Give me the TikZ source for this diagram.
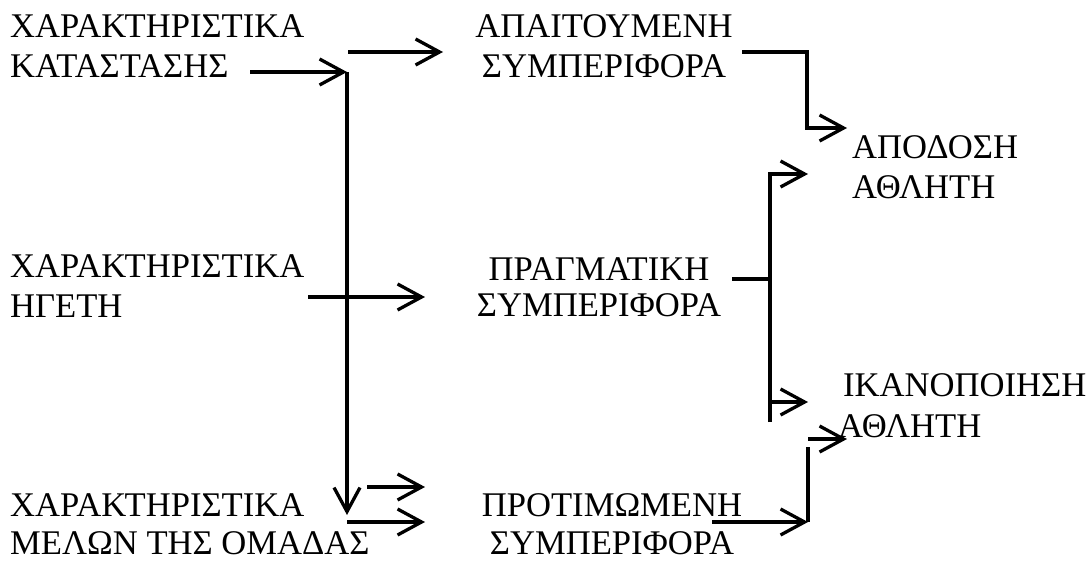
\documentclass[tikz,border=0pt]{standalone}
\usepackage{fontspec}
\setmainfont{Liberation Serif}
\usetikzlibrary{arrows.meta}
\newcommand{\twoL}[3][0pt]{\begin{tabular}[t]{@{}l@{}}#2\\[#1]#3\end{tabular}}
\newcommand{\twoC}[3][0pt]{\begin{tabular}[t]{@{}c@{}}#2\\[#1]#3\end{tabular}}
\begin{document}
\begin{tikzpicture}[x=1pt,y=-1pt,
  txt/.style={inner sep=0pt, font=\fontsize{34.6}{40}\selectfont},
  wire/.style={line width=3.3pt},
  arr/.style={wire, -{Straight Barb[length=24pt,width=26pt]}}]
\useasboundingbox[fill=white] (0,0) rectangle (1091,560);

% factors on the left
\node[txt, anchor=base west] (sit)  at (10,37)  {\twoL{ΧΑΡΑΚΤΗΡΙΣΤΙΚΑ}{ΚΑΤΑΣΤΑΣΗΣ}};
\node[txt, anchor=base west] (lead) at (10,277) {\twoL{ΧΑΡΑΚΤΗΡΙΣΤΙΚΑ}{ΗΓΕΤΗ}};
\node[txt, anchor=base west] (memb) at (10,516) {\twoL[-2pt]{ΧΑΡΑΚΤΗΡΙΣΤΙΚΑ}{ΜΕΛΩΝ ΤΗΣ ΟΜΑΔΑΣ}};

% behaviours in the middle
\node[txt, anchor=base] (req)  at (604,37)  {\twoC{ΑΠΑΙΤΟΥΜΕΝΗ}{ΣΥΜΠΕΡΙΦΟΡΑ}};
\node[txt, anchor=base] (act)  at (599,280) {\twoC[-4pt]{ΠΡΑΓΜΑΤΙΚΗ}{ΣΥΜΠΕΡΙΦΟΡΑ}};
\node[txt, anchor=base] (pref) at (612,516) {\twoC[-2pt]{ΠΡΟΤΙΜΩΜΕΝΗ}{ΣΥΜΠΕΡΙΦΟΡΑ}};

% outcomes on the right
\node[txt, anchor=base west] (perf) at (852,158) {\twoL{ΑΠΟΔΟΣΗ}{ΑΘΛΗΤΗ}};
\node[txt, anchor=base west] (sat)  at (838,396) {\twoL[1pt]{\hspace{5pt}ΙΚΑΝΟΠΟΙΗΣΗ}{ΑΘΛΗΤΗ}};

% junction points
\coordinate (sitOut)  at (250,72);
\coordinate (bus)     at (347,72);
\coordinate (busEnd)  at (347,515);
\coordinate (fork)    at (348,52);
\coordinate (reqIn)   at (443,52);
\coordinate (leadOut) at (308,297);
\coordinate (actIn)   at (425,297);
\coordinate (mFork1)  at (367,487);
\coordinate (mIn1)    at (425,487);
\coordinate (mFork2)  at (347,522);
\coordinate (mIn2)    at (425,522);
\coordinate (reqOut)  at (742,52);
\coordinate (reqBend) at (807,128);
\coordinate (perfIn1) at (847,128);
\coordinate (actOut)  at (732,279);
\coordinate (railTop) at (770,174);
\coordinate (railBot) at (770,422);
\coordinate (perfIn2) at (808,174);
\coordinate (satTap)  at (770,402);
\coordinate (satIn1)  at (808,402);
\coordinate (prefOut) at (712,522);
\coordinate (prefBend) at (808,522);
\coordinate (prefTop) at (808,447);
\coordinate (satTap2) at (808,439);
\coordinate (satIn2)  at (847,439);

% left bus
\draw[arr] (sitOut) -- (bus);
\draw[arr] (bus) -- (busEnd);
\draw[arr] (fork) -- (reqIn);
\draw[arr] (leadOut) -- (actIn);
\draw[arr] (mFork1) -- (mIn1);
\draw[arr] (mFork2) -- (mIn2);

% required behaviour to performance
\draw[arr] (reqOut) -| (reqBend) -- (perfIn1);

% actual behaviour to both outcomes
\draw[wire] (actOut) -- (actOut -| railTop);
\draw[arr] (railBot) -- (railTop) -- (perfIn2);
\draw[arr] (satTap) -- (satIn1);

% preferred behaviour to satisfaction
\draw[arr] (prefOut) -- (prefBend);
\draw[wire] (prefBend) -- (prefTop);
\draw[arr] (satTap2) -- (satIn2);
\end{tikzpicture}
\end{document}
